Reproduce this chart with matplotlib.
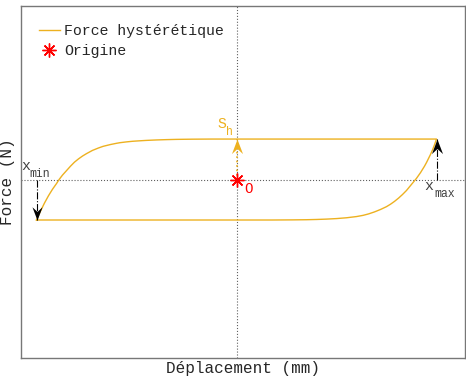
import matplotlib
matplotlib.use("Agg")
import matplotlib.pyplot as plt
from matplotlib.path import Path

plt.rcParams['font.family'] = ['Liberation Mono', 'DejaVu Sans Mono']

# Hysteresis loop (upper branch then lower branch)
upper_x = [-1.0, -0.98, -0.96, -0.94, -0.92, -0.90, -0.887, -0.87, -0.85, -0.83,
           -0.81, -0.79, -0.77, -0.75, -0.72, -0.69, -0.667, -0.63, -0.60, -0.583,
           -0.55, -0.52, -0.49, -0.45, -0.40, -0.35, -0.30, -0.22, -0.12, 0.0, 0.5, 1.0]
upper_y = [-1.0, -0.78, -0.58, -0.40, -0.24, -0.10, 0.0, 0.11, 0.22, 0.33,
           0.43, 0.51, 0.58, 0.64, 0.72, 0.78, 0.82, 0.865, 0.895, 0.91,
           0.93, 0.945, 0.955, 0.967, 0.978, 0.986, 0.992, 0.997, 1.0, 1.0, 1.0, 1.0]
lower_x = [1.0, 0.99, 0.98, 0.97, 0.96, 0.95, 0.94, 0.93, 0.92, 0.91, 0.90, 0.89,
           0.87, 0.85, 0.83, 0.81, 0.79, 0.77, 0.75, 0.72, 0.69, 0.66, 0.633, 0.60,
           0.55, 0.50, 0.45, 0.40, 0.35, 0.28, 0.18, 0.0, -0.5, -1.0]
lower_y = [1.0, 0.86, 0.73, 0.62, 0.52, 0.42, 0.33, 0.25, 0.17, 0.10, 0.03, -0.03,
           -0.15, -0.27, -0.37, -0.46, -0.54, -0.61, -0.67, -0.74, -0.80, -0.85, -0.885, -0.915,
           -0.945, -0.965, -0.978, -0.987, -0.993, -0.997, -1.0, -1.0, -1.0, -1.0]
x_min, x_max = -1.0, 1.0
S_h = 1.0
origin = (0.0, 0.0)

line_color = '#EDB120'
txt_color = '#404040'
lab_color = '#262626'

fig = plt.figure(figsize=(4.66, 3.82), dpi=100)
ax = fig.add_axes([0.044, 0.0628, 0.9528, 0.9228])

ax.axhline(0, color='#606060', linestyle=':', linewidth=0.8, zorder=1)
ax.axvline(0, color='#606060', linestyle=':', linewidth=0.8, zorder=1)

ax.plot(upper_x + lower_x, upper_y + lower_y, color=line_color, linewidth=1.0,
        label='Force hystérétique', zorder=2)
ax.plot([origin[0]], [origin[1]], linestyle='none', marker=(8, 2, 0), color='red',
        markersize=10, markeredgewidth=1.0, label='Origine', zorder=5)

up_head = Path([(0, 0), (-0.38, -1), (0, -0.65), (0.38, -1), (0, 0)],
               [Path.MOVETO, Path.LINETO, Path.LINETO, Path.LINETO, Path.CLOSEPOLY])
down_head = Path([(0, 0), (-0.38, 1), (0, 0.65), (0.38, 1), (0, 0)],
                 [Path.MOVETO, Path.LINETO, Path.LINETO, Path.LINETO, Path.CLOSEPOLY])

# xmin arrow
ax.plot([x_min, x_min], [0, -1.0], color='black', linestyle='-.', linewidth=0.8, zorder=3)
ax.plot([x_min], [-1.0], marker=down_head, markersize=19, color='black',
        markeredgewidth=0, linestyle='none', zorder=4)
# xmax arrow
ax.plot([x_max, x_max], [0, 1.0], color='black', linestyle='-.', linewidth=0.8, zorder=3)
ax.plot([x_max], [1.0], marker=up_head, markersize=21, color='black',
        markeredgewidth=0, linestyle='none', zorder=4)
# S_h arrow
ax.plot([0, 0], [0, S_h], color=line_color, linestyle=':', linewidth=1.2, zorder=3)
ax.plot([0], [S_h], marker=up_head, markersize=21, color=line_color,
        markeredgewidth=0, linestyle='none', zorder=4)

# labels with subscripts
ax.text(-1.0735, 0.235, 'x', color=txt_color, fontsize=10.7, ha='left', va='baseline')
ax.text(-1.036, 0.062, 'min', color=txt_color, fontsize=8.3, ha='left', va='baseline')
ax.text(0.939, -0.259, 'x', color=txt_color, fontsize=10.7, ha='left', va='baseline')
ax.text(0.988, -0.432, 'max', color=txt_color, fontsize=8.3, ha='left', va='baseline')
ax.text(-0.097, 1.27, 'S', color=line_color, fontsize=10.7, ha='left', va='baseline')
ax.text(-0.051, 1.10, 'h', color=line_color, fontsize=8.3, ha='left', va='baseline')
ax.text(0.0365, -0.333, 'O', color='red', fontsize=10.0, ha='left', va='baseline')

ax.set_xlim(-1.08, 1.14)
ax.set_ylim(-4.41, 4.30)
ax.set_xticks([])
ax.set_yticks([])
for s in ax.spines.values():
    s.set_color('#777777')
    s.set_linewidth(1.0)

ax.set_xlabel('Déplacement (mm)', fontsize=11.5, color=lab_color, labelpad=2.5)
ax.set_ylabel('Force (N)', fontsize=11.5, color=lab_color, labelpad=4)

leg = ax.legend(loc='upper left', frameon=False, fontsize=10.7, handlelength=1.4,
                handletextpad=0.3, labelspacing=0.4, borderaxespad=0.85,
                bbox_to_anchor=(0.0, 1.0))
for t in leg.get_texts():
    t.set_color(lab_color)

fig.savefig('out.png', dpi=100)
